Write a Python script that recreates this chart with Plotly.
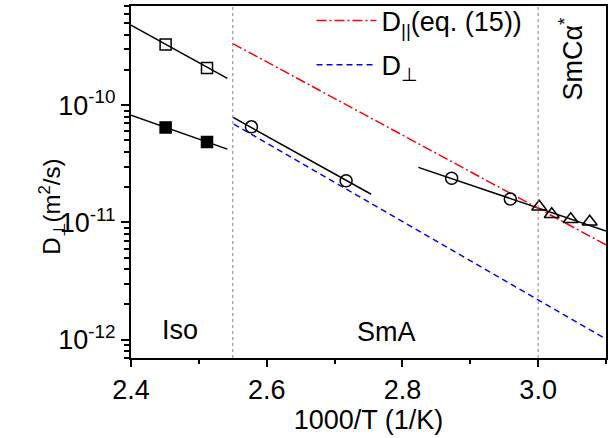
import math
import plotly.graph_objects as go

# ---- data ----
iso_open_x = [2.451, 2.512]
iso_open_y = [3.29e-10, 2.07e-10]
iso_open_fit_x = [2.40, 2.542]
iso_open_fit_y = [4.8e-10, 1.69e-10]

iso_fill_x = [2.451, 2.512]
iso_fill_y = [6.46e-11, 4.85e-11]
iso_fill_fit_x = [2.40, 2.542]
iso_fill_fit_y = [8.2e-11, 4.22e-11]

sma1_x = [2.5775, 2.717]
sma1_y = [6.53e-11, 2.27e-11]
sma1_fit_x = [2.5505, 2.754]
sma1_fit_y = [7.86e-11, 1.74e-11]

sma2_x = [2.8725, 2.959]
sma2_y = [2.38e-11, 1.585e-11]
smc_x = [3.0015, 3.020, 3.048, 3.076]
smc_y = [1.36e-11, 1.175e-11, 1.064e-11, 1.016e-11]
fit2_x = [2.8235, 3.10]
fit2_y = [2.95e-11, 8.47e-12]

dpar_x = [2.55, 3.10]
dpar_y = [3.35e-10, 6.44e-12]
dperp_x = [2.5515, 3.10]
dperp_y = [6.9e-11, 1.014e-12]

transitions = [2.55, 3.0]
phase_labels = ["Iso", "SmA", "SmCα<sup>*</sup>"]
phase_label_x = [2.472, 2.776, 3.0485]
phase_label_y = [1.216e-12, 1.16e-12, 2.5e-10]
phase_label_angle = [0, 0, -90]

ytick_vals = [1e-12, 1e-11, 1e-10]
ytick_text = ["10<sup>-12</sup>", "10<sup>-11</sup>", "10<sup>-10</sup>"]

FONT = "Arial, Liberation Sans, sans-serif"
FS = 27

fig = go.Figure()

def fit(x, y):
    fig.add_trace(go.Scatter(x=x, y=y, mode="lines", line=dict(color="black", width=1.5),
                             showlegend=False, hoverinfo="skip"))

fit(iso_open_fit_x, iso_open_fit_y)
fit(iso_fill_fit_x, iso_fill_fit_y)
fit(sma1_fit_x, sma1_fit_y)
fit(fit2_x, fit2_y)

fig.add_trace(go.Scatter(x=dpar_x, y=dpar_y, mode="lines", legendgroup="par",
                         line=dict(color="red", width=1.5, dash="10px,3px,2px,3px"),
                         name="D<sub>||</sub>(eq. (15))"))
fig.add_trace(go.Scatter(x=dperp_x, y=dperp_y, mode="lines", legendgroup="perp",
                         line=dict(color="blue", width=1.5, dash="6px,4px"),
                         name="D<sub>⊥</sub>"))

def pts(x, y, symbol, size, fill="rgba(0,0,0,0)"):
    fig.add_trace(go.Scatter(x=x, y=y, mode="markers", showlegend=False,
                             marker=dict(symbol=symbol, size=size, color=fill,
                                         line=dict(color="black", width=1.5))))

pts(iso_open_x, iso_open_y, "square", 11)
pts(iso_fill_x, iso_fill_y, "square", 11, fill="black")
pts(sma1_x, sma1_y, "circle", 12)
pts(sma2_x, sma2_y, "circle", 12)
pts(smc_x, smc_y, "triangle-up", 13)

shapes = []
for xv in transitions:
    shapes.append(dict(type="line", xref="x", yref="paper", x0=xv, x1=xv, y0=0, y1=1,
                       line=dict(color="gray", width=1, dash="dot")))

annotations = []
for t, xv, yv, ang in zip(phase_labels, phase_label_x, phase_label_y, phase_label_angle):
    annotations.append(dict(x=xv, y=math.log10(yv), xref="x", yref="y", text=t,
                            textangle=ang, showarrow=False,
                            font=dict(family=FONT, size=FS, color="black")))
# y-axis title
annotations.append(dict(x=-0.208, y=0.43, xref="paper", yref="paper",
                        text="D<sub>⊥</sub>(m<sup>2</sup>/s)", textangle=-90, showarrow=False,
                        font=dict(family=FONT, size=24, color="black")))

fig.update_layout(
    width=615, height=438,
    margin=dict(l=131, r=9, t=6, b=80, autoexpand=False),
    paper_bgcolor="white", plot_bgcolor="white",
    font=dict(family=FONT, size=FS, color="black"),
    shapes=shapes, annotations=annotations,
    legend=dict(x=0.38, y=1.027, xanchor="left", yanchor="top", bgcolor="rgba(0,0,0,0)",
                font=dict(family=FONT, size=FS), itemwidth=60,
                traceorder="grouped", tracegroupgap=6),
    xaxis=dict(range=[2.4, 3.1], dtick=0.2, tick0=2.4, tickformat=".1f",
               ticks="outside", ticklen=7, tickwidth=1.5, tickcolor="black",
               showline=True, linecolor="black", linewidth=2, mirror=True,
               showgrid=False, zeroline=False, automargin=False,
               minor=dict(dtick=0.1, ticks="outside", ticklen=4, tickwidth=1.5, tickcolor="black"),
               title=dict(text="1000/T (1/K)", font=dict(size=FS), standoff=6),
               tickfont=dict(size=FS)),
    yaxis=dict(type="log", range=[-12.155, -9.155],
               tickvals=ytick_vals, ticktext=ytick_text,
               ticks="outside", ticklen=8, tickwidth=1.5, tickcolor="black",
               showline=True, linecolor="black", linewidth=2, mirror=True,
               showgrid=False, zeroline=False, automargin=False,
               minor=dict(dtick="D1", ticks="outside", ticklen=5, tickwidth=1.5, tickcolor="black"),
               tickfont=dict(size=FS)),
)

fig.write_html("out.html")
